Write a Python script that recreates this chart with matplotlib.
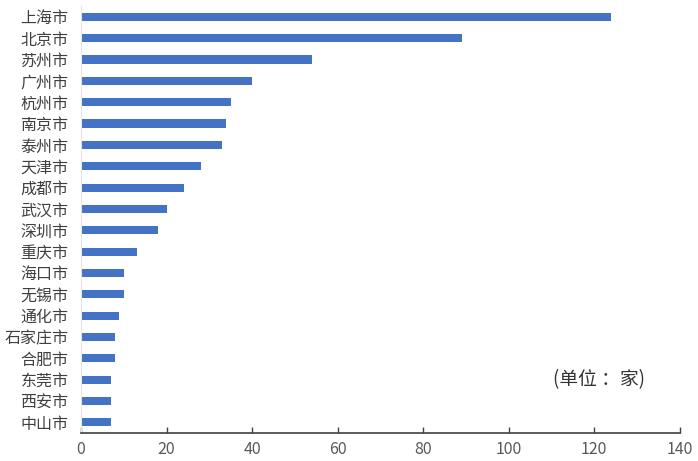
import matplotlib.pyplot as plt

plt.rcParams['font.family'] = ['Noto Sans CJK SC', 'DejaVu Sans']

cities = ["上海市", "北京市", "苏州市", "广州市", "杭州市", "南京市", "泰州市", "天津市",
          "成都市", "武汉市", "深圳市", "重庆市", "海口市", "无锡市", "通化市", "石家庄市",
          "合肥市", "东莞市", "西安市", "中山市"]
counts = [124, 89, 54, 40, 35, 34, 33, 28, 24, 20, 18, 13, 10, 10, 9, 8, 8, 7, 7, 7]
xticks = [0, 20, 40, 60, 80, 100, 120, 140]

fig = plt.figure(figsize=(6.98, 4.61), dpi=100)
ax = fig.add_axes([0.116, 0.0607, 0.858, 0.926])

pos = list(range(len(cities)))
ax.barh(pos, counts, height=0.38, color="#4472C4")
ax.set_ylim(len(cities) - 0.5, -0.5)
ax.set_xlim(0, 140)
ax.set_yticks(pos)
ax.set_yticklabels(cities, fontsize=11.5, color="#404040")
ax.set_xticks(xticks)
ax.set_xticklabels([str(t) for t in xticks], fontsize=11.5, color="#595959")
ax.tick_params(axis="y", length=0, pad=9)
ax.tick_params(axis="x", direction="in", length=4, width=1, color="#404040", pad=6)

for s in ["top", "right"]:
    ax.spines[s].set_visible(False)
ax.spines["left"].set_color("#e6e6e6")
ax.spines["bottom"].set_color("#404040")
ax.spines["bottom"].set_linewidth(1.2)

# unit note, lower right
ax.text(0.941, 0.126, "(单位 ：家)", transform=ax.transAxes, ha="right", va="center",
        fontsize=13.5, color="#333333")

fig.savefig("out.png", dpi=100)
